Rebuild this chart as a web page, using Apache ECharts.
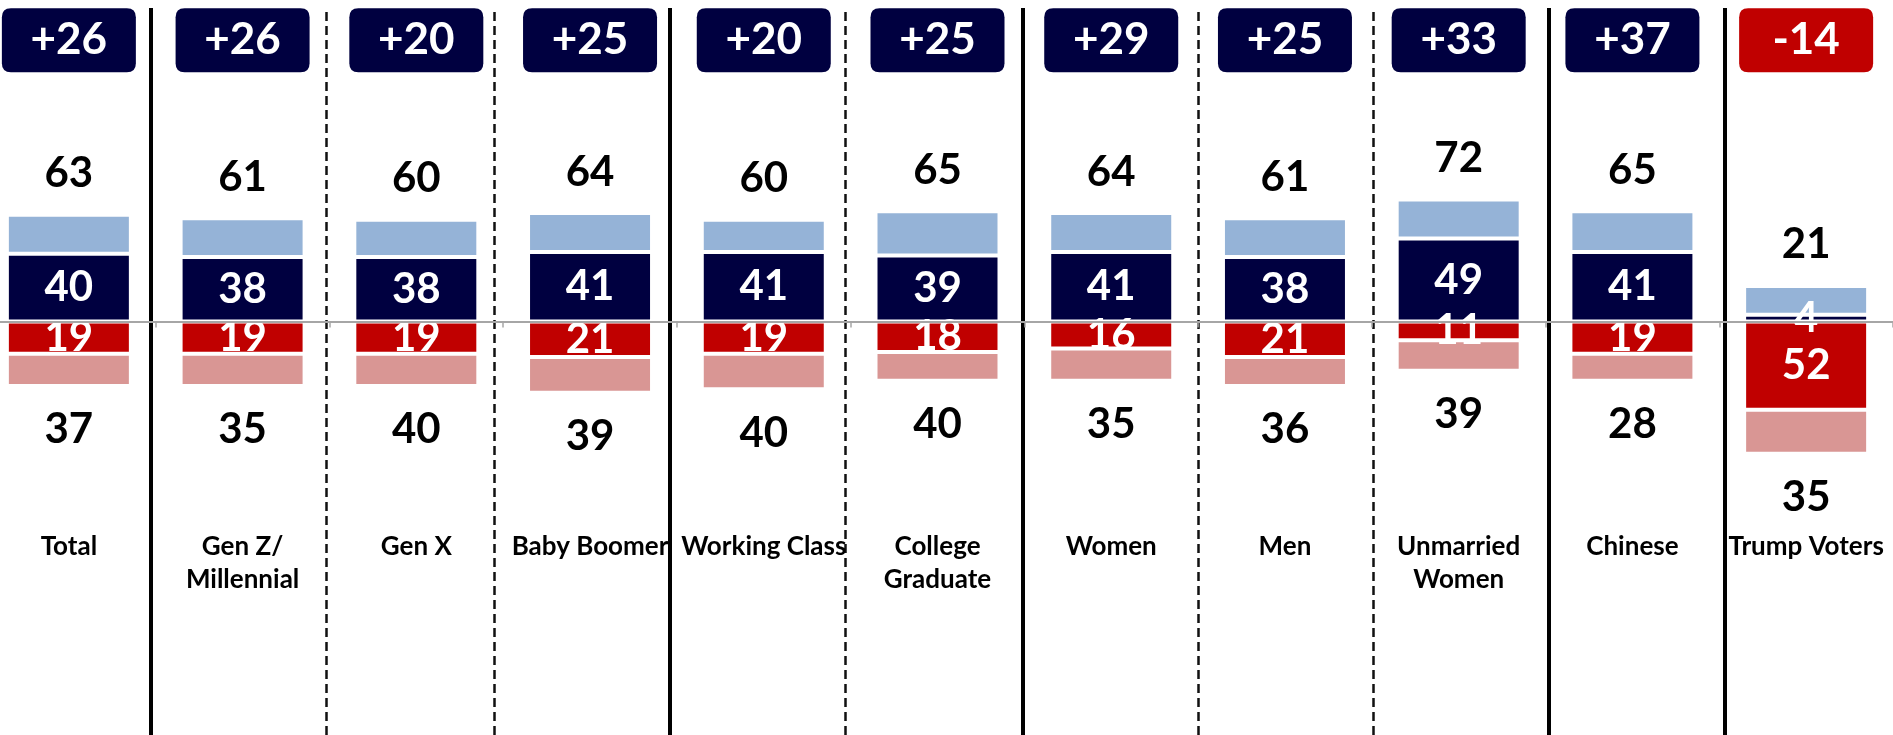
<!DOCTYPE html>
<html>
<head>
<meta charset="utf-8">
<script src="https://cdn.jsdelivr.net/npm/echarts@6/dist/echarts.min.js"></script>
<style>
  html, body { margin: 0; padding: 0; background: #fff; }
  #chart { width: 1893px; height: 735px; }
</style>
</head>
<body>
<div id="chart"></div>
<script>
// groups and values
const groups = ['Total', 'Gen Z/\nMillennial', 'Gen X', 'Baby Boomer', 'Working Class',
    'College\nGraduate', 'Women', 'Men', 'Unmarried\nWomen', 'Chinese', 'Trump Voters'];
const netScore = [26, 26, 20, 25, 20, 25, 29, 25, 33, 37, -14];
const favStrong = [40, 38, 38, 41, 41, 39, 41, 38, 49, 41, 4];
const favSomewhat = [23, 23, 22, 23, 19, 26, 23, 23, 23, 24, 17];
const favTotal = [63, 61, 60, 64, 60, 65, 64, 61, 72, 65, 21];
const unfavStrong = [19, 19, 19, 21, 19, 18, 16, 21, 11, 19, 52];
const unfavSomewhat = [19, 19, 19, 21, 21, 17, 19, 17, 18, 16, 26];
const unfavTotal = [37, 35, 40, 39, 40, 40, 35, 36, 39, 28, 35];

// layout: column dividers (in category units) and where the net boxes sit
const dividers = [[0.47, 'solid'], [1.48, 'dashed'], [2.45, 'dashed'], [3.46, 'solid'], [4.47, 'dashed'],
    [5.49, 'solid'], [6.50, 'dashed'], [7.51, 'dashed'], [8.52, 'solid'], [9.53, 'solid']];
const NET_Y = 166;

const NAVY = '#000040';
const LIGHT_BLUE = '#95b3d7';
const RED = '#c00000';
const PINK = '#d99694';
const FONT = 'Lato, "Open Sans", sans-serif';

const chart = echarts.init(document.getElementById('chart'));

function numLabel(color, arr, pos, dist) {
    return {
        show: true,
        position: pos,
        distance: dist,
        color: color,
        fontFamily: FONT,
        fontWeight: 'bold',
        fontSize: 42,
        lineHeight: 42,
        formatter: function (p) { return arr[p.dataIndex]; }
    };
}

const barBase = {
    type: 'bar',
    stack: 'all',
    barWidth: 124,
    xAxisIndex: 0,
    yAxisIndex: 0,
    emphasis: { disabled: true },
};

const boxPath = 'path://M9,0 L125,0 Q134,0 134,9 L134,55 Q134,64 125,64 L9,64 Q0,64 0,55 L0,9 Q0,0 9,0 Z';

let option = {
    animation: false,
    grid: { left: -18, right: 0, top: 8, bottom: 0, containLabel: false, outerBoundsMode: 'none' },
    xAxis: [
        {
            type: 'category',
            data: groups,
            z: 5,
            axisLine: { onZero: true, lineStyle: { color: '#a6a6a6', width: 2 } },
            axisTick: { show: true, length: 6, lineStyle: { color: '#a6a6a6', width: 1.5 } },
            axisLabel: {
                interval: 0,
                margin: -205,
                color: '#000',
                fontFamily: FONT,
                fontWeight: 'bold',
                fontSize: 26,
                lineHeight: 33
            },
            splitLine: { show: false }
        },
        { type: 'value', min: -0.5, max: 10.5, show: false }
    ],
    yAxis: { type: 'value', min: -244, max: 185, show: false, splitLine: { show: false } },
    series: [
        Object.assign({}, barBase, {
            name: 'Strongly favorable',
            data: favStrong,
            itemStyle: { color: NAVY, borderColor: '#fff', borderWidth: 2 },
            label: numLabel('#fff', favStrong, 'inside', 0)
        }),
        Object.assign({}, barBase, {
            name: 'Somewhat favorable',
            data: favSomewhat,
            itemStyle: { color: LIGHT_BLUE, borderColor: '#fff', borderWidth: 2 },
            label: numLabel('#000', favTotal, 'outside', 20)
        }),
        Object.assign({}, barBase, {
            name: 'Strongly unfavorable',
            data: unfavStrong.map(v => -v),
            itemStyle: { color: RED, borderColor: '#fff', borderWidth: 2 },
            label: numLabel('#fff', unfavStrong, 'inside', 0)
        }),
        Object.assign({}, barBase, {
            name: 'Somewhat unfavorable',
            data: unfavSomewhat.map(v => -v),
            itemStyle: { color: PINK, borderColor: '#fff', borderWidth: 2 },
            label: numLabel('#000', unfavTotal, 'outside', 23)
        }),
        {
            name: 'Net',
            type: 'scatter',
            xAxisIndex: 0,
            yAxisIndex: 0,
            symbol: boxPath,
            symbolSize: [134, 64],
            symbolKeepAspect: false,
            z: 6,
            emphasis: { disabled: true },
            data: netScore.map((v, i) => ({
                value: [i, NET_Y],
                itemStyle: { color: v >= 0 ? NAVY : RED, opacity: 1 }
            })),
            label: {
                show: true,
                position: 'inside',
                color: '#fff',
                fontFamily: FONT,
                fontWeight: 'bold',
                fontSize: 44,
                formatter: function (p) {
                    const v = netScore[p.dataIndex];
                    return (v > 0 ? '+' : '') + v;
                }
            }
        },
        {
            name: 'Dividers',
            type: 'line',
            xAxisIndex: 1,
            yAxisIndex: 0,
            data: [],
            silent: true,
            markLine: {
                symbol: 'none',
                silent: true,
                label: { show: false },
                emphasis: { disabled: true },
                data: dividers.map(d => ({
                    xAxis: d[0],
                    lineStyle: d[1] === 'solid'
                        ? { type: 'solid', color: '#000', width: 4 }
                        : { type: [9, 5], color: '#111', width: 2.5 }
                }))
            }
        }
    ]
};

option && chart.setOption(option);
</script>
</body>
</html>
